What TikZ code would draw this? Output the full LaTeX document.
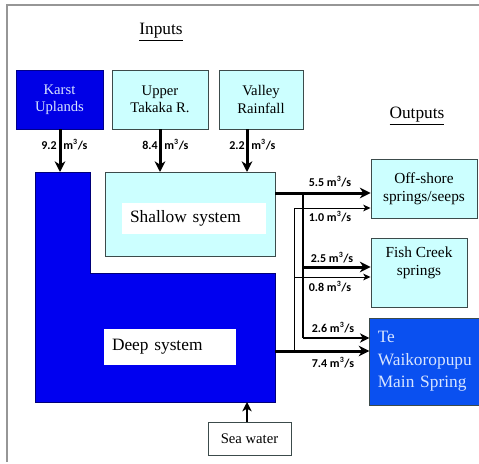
\documentclass[tikz,border=0pt]{standalone}
\usepackage{fontspec}
\setmainfont{Liberation Serif}
\newfontfamily\flowfont{Carlito}
\usetikzlibrary{arrows.meta}
\definecolor{karstblue}{RGB}{0,0,230}
\definecolor{deepblue}{RGB}{0,0,240}
\definecolor{springblue}{RGB}{10,80,240}
\definecolor{shallowcyan}{RGB}{204,255,255}
\definecolor{boxline}{RGB}{60,75,75}
\definecolor{paletext}{RGB}{215,228,255}
\definecolor{framegray}{RGB}{150,150,150}

\begin{document}
\begin{tikzpicture}[x=0.75pt, y=-0.75pt,
  cyanbox/.style={draw=boxline, fill=shallowcyan, line width=0.7pt, align=center, inner sep=0pt},
  whitebox/.style={fill=white, inner xsep=6pt, inner ysep=0pt, align=left},
  flowlabel/.style={font=\flowfont\bfseries\fontsize{9}{10}\selectfont, inner sep=0pt},
  inflow/.style={line width=2.25pt, -{Stealth[length=8pt, width=8pt, inset=2.5pt]}},
  bigflow/.style={line width=2.25pt, -{Stealth[length=8pt, width=8pt, inset=2.5pt]}},
  midflow/.style={line width=1.5pt, -{Stealth[length=7pt, width=7pt, inset=2pt]}},
  smallflow/.style={line width=0.75pt, -{Stealth[length=5.5pt, width=5pt, inset=1.5pt]}}]
  \useasboundingbox (0,0) rectangle (479,464);
  % Frame
  \draw[framegray, line width=1.5pt] (7,462) -- (7,5) -- (479,5);
  % Titles
  \node[font=\fontsize{13}{15}\selectfont] (inputs) at (161,32) {\underline{Inputs}};
  \node[font=\fontsize{13}{15}\selectfont] (outputs) at (417,116) {\underline{Outputs}};
  % Inputs
  \node[draw=karstblue!60!black, fill=karstblue, text=paletext, line width=0.7pt, align=center,
        minimum width=65.25pt, minimum height=44.25pt, font=\fontsize{11}{13}\selectfont]
        (karst) at (59.5,99.5) {Karst\\Uplands};
  \node[cyanbox, minimum width=72pt, minimum height=44.25pt, font=\fontsize{11}{13}\selectfont]
        (takaka) at (160,99.5) {Upper\\Takaka R.};
  \node[cyanbox, minimum width=63pt, minimum height=44.25pt, font=\fontsize{11}{13}\selectfont]
        (rain) at (261,99.5) {Valley\\Rainfall};
  % Deep system (L shape)
  \draw[draw=deepblue!50!black, fill=deepblue, line width=0.6pt]
    (35,172) -- (90,172) -- (90,273) -- (275,273) -- (275,402) -- (35,402) -- cycle;
  \node[whitebox, text width=87pt, minimum height=27pt, font=\fontsize{13}{15}\selectfont]
        (deep) at (170,347) {Deep system};
  % Shallow system
  \node[cyanbox, minimum width=127.5pt, minimum height=63pt] (shallow) at (190,214) {};
  \node[whitebox, text width=96pt, minimum height=23.25pt, font=\fontsize{13}{15}\selectfont]
        (shallowlbl) at (194,218.5) {Shallow system};
  % Sea water
  \node[draw=boxline, line width=0.7pt, minimum width=62.25pt, minimum height=24.75pt,
        inner sep=0pt, font=\fontsize{11}{13}\selectfont] (sea) at (249.5,438.5) {Sea water};
  % Outputs
  \node[cyanbox, minimum width=79.5pt, minimum height=44.25pt, font=\fontsize{11.5}{13.5}\selectfont]
        (offshore) at (424,188.5) {Off-shore\\springs/seeps};
  \node[cyanbox, minimum width=72pt, minimum height=51.75pt, font=\fontsize{11.5}{13.5}\selectfont]
        (fish) at (419,272.5) {Fish Creek\\springs\\[4pt]};
  \node[draw=boxline, fill=springblue, text=paletext, line width=0.7pt, align=left,
        inner xsep=6pt, inner ysep=0pt, text width=70pt, minimum height=65.25pt,
        font=\fontsize{13}{17}\selectfont] (spring) at (424.5,361.5) {Te\\Waikoropupu\\Main Spring};
  % Entry and junction points
  \coordinate (karstin) at (60,172);
  \coordinate (takakain) at (160,172);
  \coordinate (rainin) at (247,172);
  \coordinate (seain) at (247,402);
  \coordinate (shallowout) at (275,193);
  \coordinate (j1) at (303,193);
  \coordinate (j1a) at (303,267);
  \coordinate (j1b) at (303,338);
  \coordinate (deepout) at (275,351);
  \coordinate (j2) at (294,351);
  \coordinate (j2a) at (294,277);
  \coordinate (j2b) at (294,208);
  % Inflows
  \draw[inflow] (karst.south -| karstin) -- (karstin);
  \draw[inflow] (takaka.south) -- (takakain);
  \draw[inflow] (rain.south -| rainin) -- (rainin);
  \draw[midflow] (sea.north -| seain) -- (seain);
  % Outflows
  \draw[bigflow] (shallowout) -- (offshore.west |- shallowout);
  \draw[line width=1.5pt] (j1) -- (j1b);
  \draw[bigflow] (j1a) -- (fish.west |- j1a);
  \draw[midflow] (j1b) -- (spring.west |- j1b);
  \draw[bigflow] (deepout) -- (spring.west |- deepout);
  \draw[smallflow] (j2) -- (j2b) -- (offshore.west |- j2b);
  \draw[smallflow] (j2a) -- (fish.west |- j2a);
  % Flow rates
  \node[flowlabel, anchor=west] (q92) at (41,145) {9.2\hspace{5pt}m\textsuperscript{3}/s};
  \node[flowlabel, anchor=west] (q84) at (142,145) {8.4\hspace{5pt}m\textsuperscript{3}/s};
  \node[flowlabel, anchor=west] (q22) at (229,145) {2.2\hspace{5pt}m\textsuperscript{3}/s};
  \node[flowlabel] (q55) at (330,182) {5.5 m\textsuperscript{3}/s};
  \node[flowlabel] (q10) at (330,217) {1.0 m\textsuperscript{3}/s};
  \node[flowlabel] (q25) at (332,258) {2.5 m\textsuperscript{3}/s};
  \node[flowlabel] (q08) at (330,287) {0.8 m\textsuperscript{3}/s};
  \node[flowlabel] (q26) at (333,328) {2.6 m\textsuperscript{3}/s};
  \node[flowlabel] (q74) at (333,363) {7.4 m\textsuperscript{3}/s};
\end{tikzpicture}
\end{document}
